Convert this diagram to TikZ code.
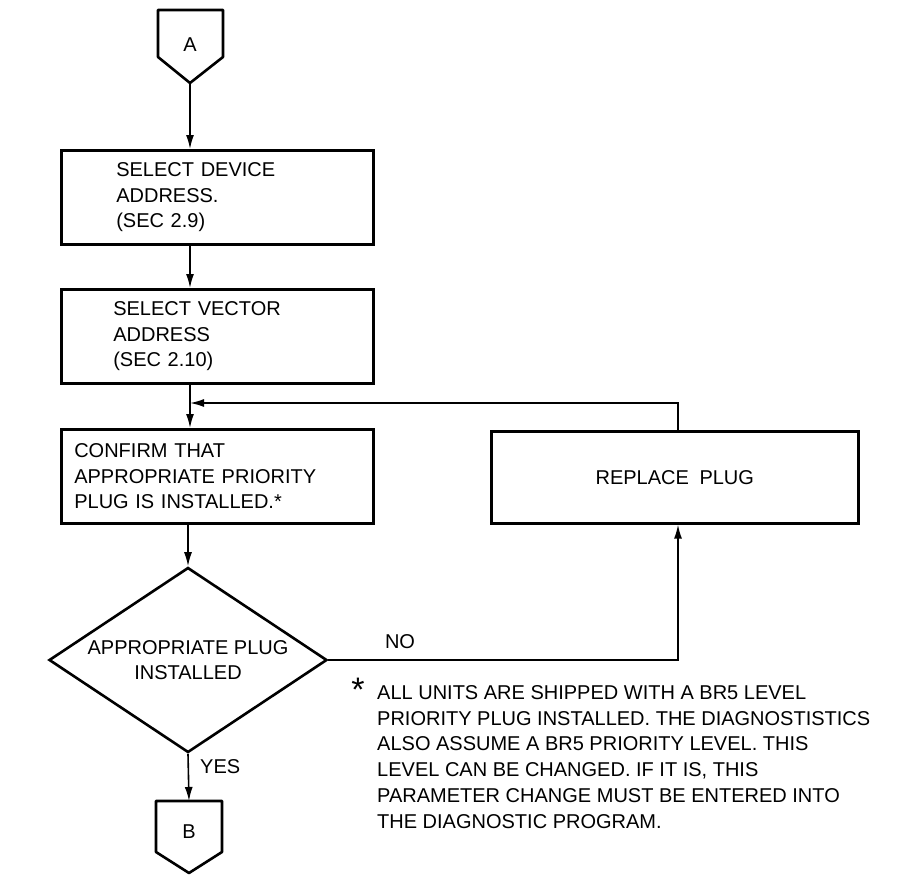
\documentclass[tikz,border=0pt]{standalone}
\usepackage{fontspec}
\setmainfont{Liberation Sans}
\usetikzlibrary{shapes.geometric,arrows.meta}
\begin{document}
\begin{tikzpicture}[x=1pt,y=-1pt,
  box/.style={draw,line width=2.6pt,rectangle,anchor=north west,minimum height=94pt,align=left,font=\fontsize{20}{25.5}\selectfont},
  arr/.style={line width=1.6pt,-{Latex[length=14pt,width=8pt]}},
  conn/.style={draw,line width=2.6pt,line join=round},
  lbl/.style={font=\fontsize{20}{24}\selectfont,inner sep=0pt}]
\useasboundingbox (0,0) rectangle (899,876);
% connector A
\draw[conn] (158,10) -- (223,10) -- (223,57) -- (190,83) -- (158,57) -- cycle;
\node[lbl] (A) at (190,45) {A};
\coordinate (Abot) at (190,83);
% boxes
\node[box,text width=202pt,inner xsep=55pt] (b1) at (60,149) {SELECT DEVICE\\ADDRESS.\\(SEC 2.9)};
\node[box,text width=208pt,inner xsep=52pt] (b2) at (60,288) {SELECT VECTOR\\ADDRESS\\(SEC 2.10)};
\node[box,text width=286pt,inner xsep=13pt] (b3) at (60,428) {CONFIRM THAT\\APPROPRIATE PRIORITY\\PLUG IS INSTALLED.*};
\node[box,minimum width=367pt,minimum height=92pt,align=center] (b4) at (490,430) {REPLACE\hspace{5pt} PLUG};
% decision
\node[draw,diamond,line width=2.6pt,aspect=1.5,minimum width=278pt,minimum height=185pt,inner sep=0pt,align=center,font=\fontsize{20}{25}\selectfont] (d) at (188,660) {APPROPRIATE PLUG\\INSTALLED};
% connector B
\draw[conn] (156,801) -- (222,801) -- (222,852) -- (189,873) -- (156,852) -- cycle;
\node[lbl] (B) at (189,832) {B};
\coordinate (Btop) at (189,801);
% flow lines
\coordinate (fb) at (678,403);
\coordinate (join) at (190,403);
\draw[arr] (Abot) -- (Abot |- b1.north);
\draw[arr] (b1.south -| Abot) -- (b2.north -| Abot);
\draw[arr] (b2.south -| Abot) -- (b3.north -| Abot);
\draw[arr] (b4.north -| fb) -- (fb) -- (join);
\draw[arr] (b3.south -| d.north) -- (d.north);
\draw[arr] (d.east) -- (d.east -| fb) -- (b4.south -| fb);
\draw[arr] (d.south) -- (Btop);
% labels
\node[lbl] (no) at (400,642) {NO};
\node[lbl,anchor=west] (yes) at (200,767) {YES};
\node[lbl,font=\fontsize{34}{34}\selectfont] (ast) at (358,690) {*};
\node[lbl,font=\fontsize{20}{25.9}\selectfont,anchor=north west,align=left] (fn) at (377,685) {ALL UNITS ARE SHIPPED WITH A BR5 LEVEL\\PRIORITY PLUG INSTALLED. THE DIAGNOSTISTICS\\ALSO ASSUME A BR5 PRIORITY LEVEL. THIS\\LEVEL CAN BE CHANGED. IF IT IS, THIS\\PARAMETER CHANGE MUST BE ENTERED INTO\\THE DIAGNOSTIC PROGRAM.};
\end{tikzpicture}
\end{document}
